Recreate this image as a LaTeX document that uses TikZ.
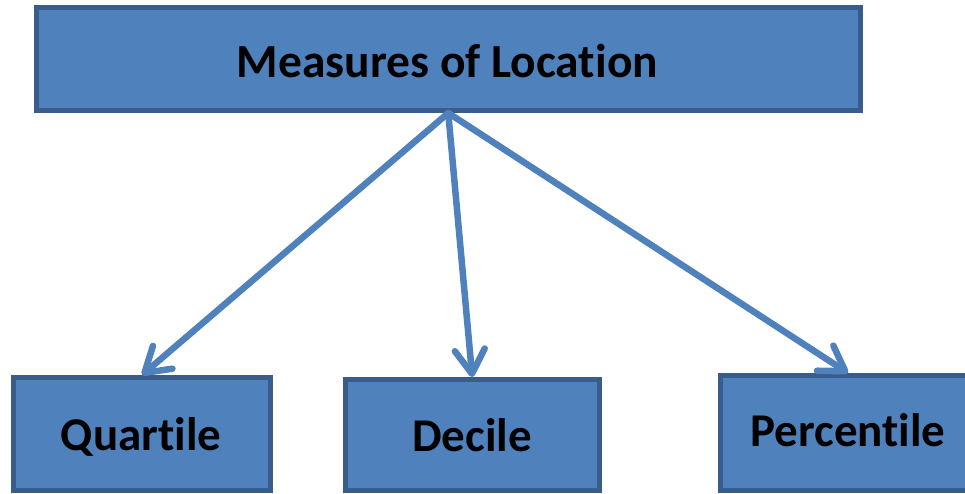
\documentclass[tikz,border=0pt]{standalone}
\usepackage{fontspec}
\setmainfont{Carlito}[Ligatures={NoCommon}]
\usetikzlibrary{arrows.meta}
\definecolor{boxfill}{HTML}{4F81BD}
\definecolor{boxline}{HTML}{385D8A}
\begin{document}
\begin{tikzpicture}[x=1pt,y=-1pt,
  box/.style={draw=boxline, fill=boxfill, line width=5pt, rectangle, inner sep=0pt},
  lbl/.style={font=\fontsize{47}{50}\selectfont\bfseries, text=black, inner sep=0pt, anchor=base},
  link/.style={draw=boxfill, line width=6.5pt, line cap=round,
    -{Straight Barb[length=24pt,width=30pt,round]}}]
\useasboundingbox (0,0) rectangle (965,493);
\clip (0,0) rectangle (965,493);
\node[box, minimum width=823.5pt, minimum height=103pt] (top) at (448.25,59) {};
\node[box, minimum width=257pt, minimum height=113pt] (q) at (142,434) {};
\node[box, minimum width=254.5pt, minimum height=111pt] (d) at (472.25,435) {};
\node[box, minimum width=255pt, minimum height=115pt] (p) at (848,433) {};
\node[lbl, font=\fontsize{47.5}{50}\selectfont\bfseries] (tl) at (447.5,77) {Measures of Location};
\node[lbl] (ql) at (141,450) {Quartile};
\node[lbl] (dl) at (472,451.5) {Decile};
\node[lbl] (pl) at (848,446.5) {Percentile};
\draw[link] (top.south) -- (q.north);
\draw[link] (top.south) -- (d.north);
\draw[link] (top.south) -- (p.north);
\end{tikzpicture}
\end{document}
